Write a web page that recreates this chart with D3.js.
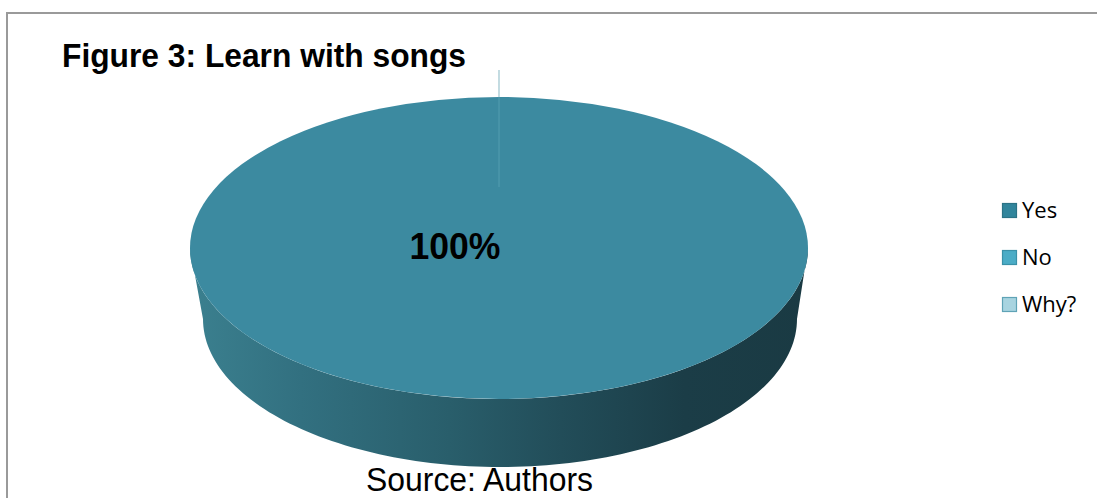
<!DOCTYPE html>
<html>
<head>
<meta charset="utf-8">
<script src="https://cdn.jsdelivr.net/npm/d3@7"></script>
<style>
  html, body { margin: 0; padding: 0; background: #fff; }
  svg { display: block; }
</style>
</head>
<body>
<script>
// ---- data ----
const categories = ["Yes", "No", "Why?"];
const values = [100, 0, 0];
const percentLabels = ["100%", "", ""];
const titleText = "Figure 3: Learn with songs";
const sourceText = "Source: Authors";

// ---- layout / style ----
const W = 1097, H = 498;
const topColors = ["#3c8aa0", "#4bacc6", "#a5d3df"];
const legendFill = ["#31859c", "#4bacc6", "#a8d4e0"];
const legendStroke = ["#2b7386", "#3a91a8", "#5fa3b6"];

const svg = d3.select("body").append("svg").attr("width", W).attr("height", H);

// frame
svg.append("path")
  .attr("d", `M7,${H} L7,13 L${W},13`)
  .attr("fill", "none").attr("stroke", "#9a9a9a").attr("stroke-width", 2);

// pie geometry
const cx = 499, cy = 248, rx = 309, ry = 151;
const cx2 = 500, cy2 = 319, rx2 = 297, ry2 = 148;

const pie = d3.pie().sort(null).value(d => d)(values);

// side gradient
const defs = svg.append("defs");
const grad = defs.append("linearGradient").attr("id", "side")
  .attr("gradientUnits", "userSpaceOnUse")
  .attr("x1", cx - rx).attr("x2", cx + rx).attr("y1", 0).attr("y2", 0);
[[0, "#3b808f"], [0.18, "#327080"], [0.42, "#295e6b"], [0.6, "#224d59"], [0.8, "#1b3d47"], [1, "#1a3a43"]]
  .forEach(([o, c]) => grad.append("stop").attr("offset", o).attr("stop-color", c));

// side wall (lower half of both ellipses joined)
const N = 120;
const ang = d3.range(N + 1).map(i => Math.PI * i / N); // 0..PI
const topPts = ang.map(a => [cx + rx * Math.cos(a), cy + ry * Math.sin(a)]);
const botPts = ang.map(a => [cx2 + rx2 * Math.cos(a), cy2 + ry2 * Math.sin(a)]);
const sidePts = botPts.concat(topPts.slice().reverse());
svg.append("path")
  .attr("d", d3.line()(sidePts) + "Z")
  .attr("fill", "url(#side)");

// top face slices (elliptical, via d3.arc scaled)
const arc = d3.arc().innerRadius(0).outerRadius(rx);
const g = svg.append("g").attr("transform", `translate(${cx},${cy}) scale(1,${ry / rx})`);
g.selectAll("path.slice").data(pie).join("path")
  .attr("class", "slice")
  .attr("d", arc)
  .attr("fill", (d, i) => topColors[i]);

// zero-slice edge line at top
svg.append("line")
  .attr("x1", cx).attr("x2", cx).attr("y1", 70).attr("y2", cy - ry)
  .attr("stroke", "#9cc4ce").attr("stroke-width", 1.2);
svg.append("line")
  .attr("x1", cx).attr("x2", cx).attr("y1", cy - ry).attr("y2", 187)
  .attr("stroke", "#4f9aae").attr("stroke-width", 1.2);

// percent label
svg.append("text")
  .attr("x", 455).attr("y", 259)
  .attr("text-anchor", "middle")
  .attr("font-family", "Liberation Sans, Arial, sans-serif")
  .attr("font-weight", "bold").attr("font-size", 36)
  .attr("textLength", 91).attr("lengthAdjust", "spacingAndGlyphs")
  .attr("fill", "#000")
  .text(percentLabels[0]);

// title
svg.append("text")
  .attr("x", 62).attr("y", 67)
  .attr("font-family", "Liberation Sans, Arial, sans-serif")
  .attr("font-weight", "bold").attr("font-size", 33)
  .attr("textLength", 404).attr("lengthAdjust", "spacingAndGlyphs")
  .attr("fill", "#000")
  .text(titleText);

// source
svg.append("text")
  .attr("x", 366).attr("y", 491)
  .attr("font-family", "Liberation Sans, Arial, sans-serif")
  .attr("font-size", 33)
  .attr("textLength", 227).attr("lengthAdjust", "spacingAndGlyphs")
  .attr("fill", "#000")
  .text(sourceText);

// legend
const lg = svg.append("g").selectAll("g").data(categories).join("g")
  .attr("transform", (d, i) => `translate(1002,${203 + i * 47})`);
lg.append("rect")
  .attr("x", 0.5).attr("y", 0.5).attr("width", 14).attr("height", 14)
  .attr("fill", (d, i) => legendFill[i])
  .attr("stroke", (d, i) => legendStroke[i]).attr("stroke-width", 1.2);
lg.append("text")
  .attr("x", 20).attr("y", 15)
  .attr("font-family", "Open Sans, Liberation Sans, sans-serif")
  .attr("font-size", 22)
  .attr("fill", "#000")
  .text(d => d);
</script>
</body>
</html>
